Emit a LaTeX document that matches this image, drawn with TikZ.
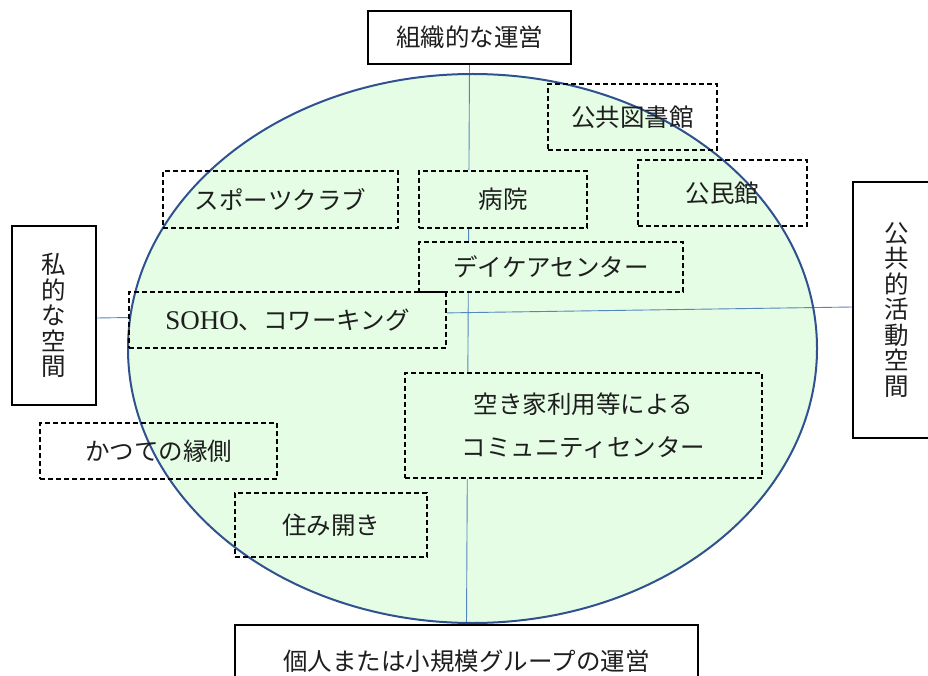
\documentclass[tikz,border=0pt]{standalone}
\usepackage{fontspec}
\setmainfont{Liberation Serif}
\newfontfamily\cjk{Noto Sans CJK JP}
\newfontfamily\latinserif{Liberation Serif}
\definecolor{ellfill}{RGB}{229,252,229}
\definecolor{ellline}{RGB}{47,82,143}
\definecolor{axisline}{RGB}{84,134,192}
\definecolor{txt}{RGB}{30,30,30}
\pgfdeclarelayer{ellbg}
\pgfdeclarelayer{axis}
\pgfdeclarelayer{boxfill}
\pgfdeclarelayer{ellout}
\pgfsetlayers{ellbg,axis,boxfill,ellout,main}
\begin{document}
\begin{tikzpicture}[x=1pt,y=-1pt,
  lbl/.style={draw=black, line width=1.1pt, fill=white, inner sep=0pt, text=txt,
    font=\cjk\fontsize{24.5}{25.5}\selectfont, align=center},
  dbox/.style={draw=black, line width=1.4pt, dash pattern=on 5pt off 3pt,
    inner sep=0pt, text=txt, font=\cjk\fontsize{24.5}{43}\selectfont, align=center},
  axisln/.style={draw=axisline, line width=0.9pt}
]
\useasboundingbox (0,0) rectangle (928,676);

% axis labels
\node[lbl, minimum width=203pt, minimum height=53pt] (org) at (469.5,37.5) {組織的な運営};
\node[lbl, minimum width=463pt, minimum height=72pt] (ind) at (466.5,661) {個人または小規模グループの運営};
\node[lbl, minimum width=84pt, minimum height=179pt] (priv) at (54,315.5) {私\\的\\な\\空\\間};
\node[lbl, minimum width=87pt, minimum height=256pt] (pub) at (896.5,310) {公\\共\\的\\活\\動\\空\\間};

% dashed item boxes
\node[dbox, minimum width=169pt, minimum height=66pt] (lib) at (632.5,117) {公共図書館};
\node[dbox, minimum width=169pt, minimum height=66pt] (kom) at (722.5,193) {公民館};
\node[dbox, minimum width=235pt, minimum height=57pt] (spo) at (280.5,199.5) {スポーツクラブ};
\node[dbox, minimum width=168pt, minimum height=57pt] (hosp) at (503,199.5) {病院};
\node[dbox, minimum width=264pt, minimum height=50pt] (day) at (551,267) {デイケアセンター};
\node[dbox, minimum width=317pt, minimum height=56pt] (soho) at (287.5,320) {{\latinserif\fontsize{27}{30}\selectfont SOHO}、コワーキング};
\node[dbox, minimum width=357pt, minimum height=105pt] (aki) at (583.5,425.5) {空き家利用等による\\コミュニティセンター};
\node[dbox, minimum width=237pt, minimum height=56pt] (eng) at (158.5,451) {かつての縁側};
\node[dbox, minimum width=192pt, minimum height=64pt] (sumi) at (331,525) {住み開き};

% ellipse fill
\begin{pgfonlayer}{ellbg}
  \fill[ellfill] (472.5,348.5) ellipse [x radius=344.5pt, y radius=274.5pt];
\end{pgfonlayer}

% axes
\begin{pgfonlayer}{axis}
  \draw[axisln] (org.south) -- (ind.north);
  \draw[axisln] ([yshift=-2.5pt]priv.east) -- ([yshift=3pt]pub.west);
\end{pgfonlayer}

% box fills hiding the axes
\begin{pgfonlayer}{boxfill}
  \foreach \n in {lib,kom,spo,hosp,day,soho,aki,eng,sumi} {
    \fill[white] (\n.south west) rectangle (\n.north east);
  }
  \begin{scope}
    \clip (472.5,348.5) ellipse [x radius=344.5pt, y radius=274.5pt];
    \foreach \n in {lib,kom,spo,hosp,day,soho,aki,eng,sumi} {
      \fill[ellfill] (\n.south west) rectangle (\n.north east);
    }
  \end{scope}
\end{pgfonlayer}

% ellipse outline
\begin{pgfonlayer}{ellout}
  \draw[ellline, line width=2pt] (472.5,348.5) ellipse [x radius=344.5pt, y radius=274.5pt];
\end{pgfonlayer}
\end{tikzpicture}
\end{document}
